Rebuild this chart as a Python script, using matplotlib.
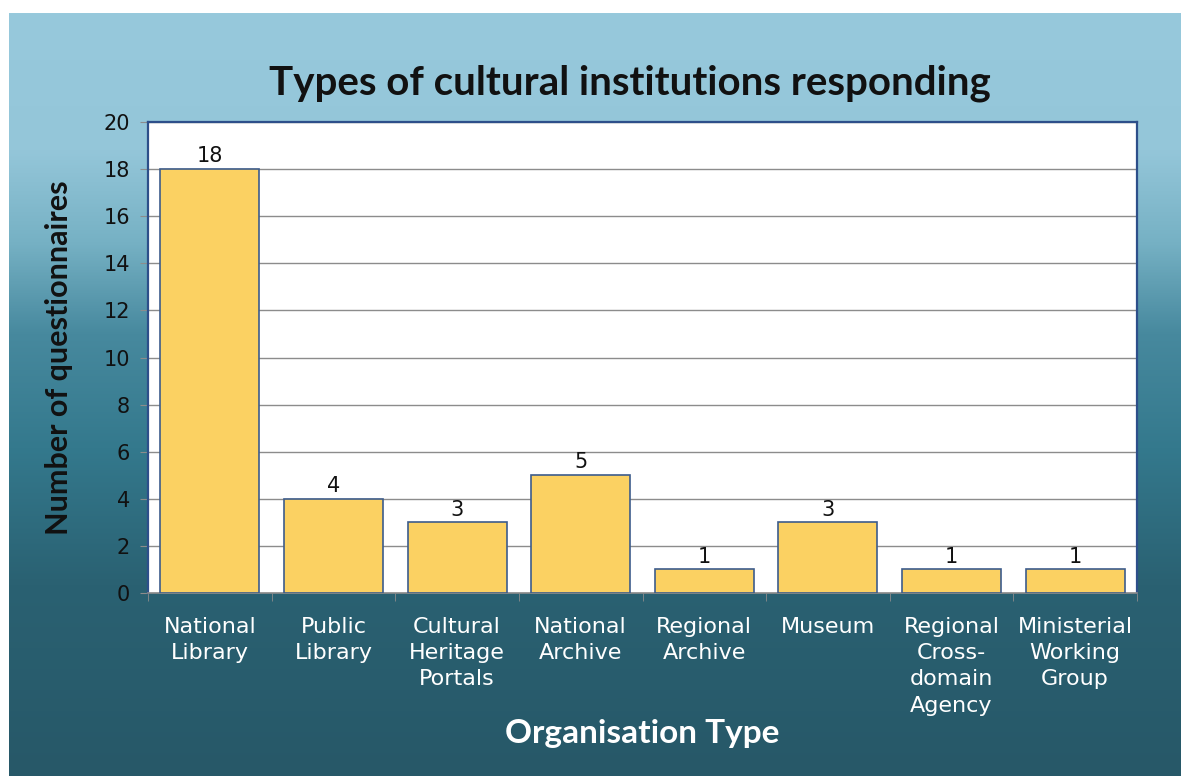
import numpy as np
import matplotlib
matplotlib.use("Agg")
from matplotlib import pyplot as plt
from matplotlib.colors import LinearSegmentedColormap

# chart data
categories = ["National\nLibrary", "Public\nLibrary", "Cultural\nHeritage\nPortals",
              "National\nArchive", "Regional\nArchive", "Museum",
              "Regional\nCross-\ndomain\nAgency", "Ministerial\nWorking\nGroup"]
counts = [18, 4, 3, 5, 1, 3, 1, 1]
yticks = [0, 2, 4, 6, 8, 10, 12, 14, 16, 18, 20]

fig = plt.figure(figsize=(11.81, 7.76), dpi=100)
fig.patch.set_facecolor("white")

# gradient backdrop
bg = fig.add_axes([9/1181, 0, 1 - 9/1181, 1 - 13/776], zorder=0)
grad = LinearSegmentedColormap.from_list("bg", [
    (0.0, "#97c9dc"), (0.18, "#94c6d9"), (0.30, "#76b1c4"),
    (0.42, "#47899e"), (0.57, "#34798d"), (0.75, "#2a6172"), (1.0, "#275868")])
bg.imshow(np.linspace(0, 1, 256).reshape(-1, 1), aspect="auto", cmap=grad,
          extent=[0, 1, 0, 1])
bg.axis("off")

ax = fig.add_axes([148/1181, 1 - 593/776, (1137 - 148)/1181, (593 - 122)/776], zorder=1)
ax.set_facecolor("white")
x = np.arange(len(counts))
bars = ax.bar(x, counts, width=0.8, color="#fbd162", edgecolor="#3d5c8c",
              linewidth=1.2, zorder=3)
for xi, v in zip(x, counts):
    ax.text(xi, v + 0.12, str(v), ha="center", va="bottom", fontsize=15,
            color="#111111", zorder=4)

ax.set_xlim(-0.5, len(counts) - 0.5)
ax.set_ylim(0, 20)
ax.set_yticks(yticks)
ax.set_yticklabels([str(t) for t in yticks], fontsize=15, color="#111111")
ax.yaxis.grid(True, color="#8c8c8c", linewidth=1.0, zorder=1)
ax.set_axisbelow(True)

ax.set_xticks(x)
ax.set_xticklabels(categories, fontsize=16, color="white", linespacing=1.4)
ax.tick_params(axis="x", length=0, pad=17)
ax.set_xticks(np.arange(-0.5, len(counts)), minor=True)
ax.tick_params(axis="x", which="minor", length=6, color="#8c8c8c")
ax.tick_params(axis="y", length=6, color="#8c8c8c", pad=7)

for side in ["left", "top", "right"]:
    ax.spines[side].set_color("#2d4f8a")
    ax.spines[side].set_linewidth(1.6)
ax.spines["bottom"].set_color("#8c8c8c")
ax.spines["bottom"].set_linewidth(1.2)

ax.set_ylabel("Number of questionnaires", fontsize=22, fontweight="bold",
              family="Lato", color="#111111", labelpad=22)
ax.set_xlabel("Organisation Type", fontsize=24, fontweight="bold",
              family="Lato", color="white", labelpad=2)
fig.text(630/1181, 1 - 83/776, "Types of cultural institutions responding",
         ha="center", va="center", fontsize=29, fontweight="bold",
         family="Lato", color="#111111")

fig.savefig("out.png", dpi=100, facecolor=fig.get_facecolor())
